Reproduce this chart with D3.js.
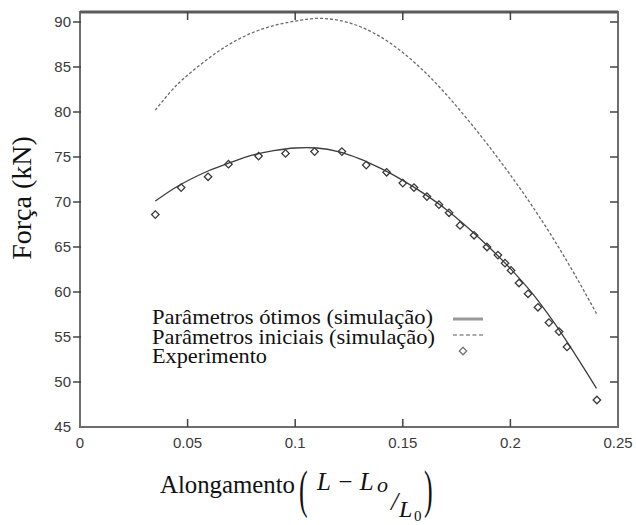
<!DOCTYPE html>
<html>
<head>
<meta charset="utf-8">
<script src="https://cdn.jsdelivr.net/npm/d3@7"></script>
<style>
  body { margin: 0; background: #fff; }
  svg { display: block; }
</style>
</head>
<body>
<svg id="chart" width="636" height="525"></svg>
<script>
// ticks
const xTicks = [0, 0.05, 0.1, 0.15, 0.2, 0.25];
const xTickLabels = ["0", "0.05", "0.1", "0.15", "0.2", "0.25"];
const yTicks = [45, 50, 55, 60, 65, 70, 75, 80, 85, 90];

// simulated curves
const simX = [0.035, 0.045, 0.06, 0.07, 0.08, 0.09, 0.1, 0.11, 0.12, 0.13, 0.14,
  0.15, 0.16, 0.17, 0.18, 0.19, 0.2, 0.21, 0.22, 0.23, 0.24];
const otimosY = [70.1, 71.7, 73.5, 74.4, 75.2, 75.7, 76.0, 76.0, 75.6, 74.8, 73.7,
  72.4, 70.9, 69.2, 67.2, 65.0, 62.6, 59.9, 56.7, 53.1, 49.3];
const iniciaisY = [80.2, 83.0, 86.0, 87.6, 88.8, 89.6, 90.1, 90.4, 90.2, 89.5, 88.3,
  86.6, 84.5, 82.0, 79.2, 76.2, 73.0, 69.6, 65.9, 61.9, 57.6];

// experiment points
const expX = [0.035, 0.047, 0.0595, 0.069, 0.083, 0.0955, 0.109, 0.1217, 0.133, 0.1425,
  0.150, 0.1552, 0.1612, 0.1668, 0.1715, 0.1766, 0.1831, 0.1891, 0.1942, 0.1975,
  0.2003, 0.204, 0.2082, 0.2128, 0.2179, 0.2226, 0.2263, 0.2402];
const expY = [68.6, 71.6, 72.8, 74.2, 75.1, 75.4, 75.6, 75.6, 74.1, 73.3,
  72.1, 71.6, 70.6, 69.7, 68.8, 67.4, 66.3, 65.0, 64.1, 63.2,
  62.4, 61.0, 59.8, 58.3, 56.6, 55.6, 53.9, 48.0];

const legendLabels = ["Parâmetros ótimos (simulação)", "Parâmetros iniciais (simulação)", "Experimento"];
const legendWidths = [281, 283, 115];

let svg = d3.select("#chart");

let plotLeft = 80, plotRight = 618, plotTop = 12, plotBottom = 427;

let x = d3.scaleLinear().domain([0, 0.25]).range([plotLeft, plotRight]);
let y = d3.scaleLinear().domain([45, 91.11]).range([plotBottom, plotTop]);

let sansFont = "'Liberation Sans', Arial, sans-serif";
let serifFont = "'Liberation Serif', 'Times New Roman', serif";

// frame
svg.append("rect")
  .attr("x", plotLeft).attr("y", plotTop)
  .attr("width", plotRight - plotLeft).attr("height", plotBottom - plotTop)
  .attr("fill", "none")
  .attr("stroke", "#6e6e6e")
  .attr("stroke-width", 2);
svg.append("line")
  .attr("x1", plotLeft).attr("x2", plotRight)
  .attr("y1", plotTop).attr("y2", plotTop)
  .attr("stroke", "#5a5a5a").attr("stroke-width", 3);

// x ticks (inside, mirrored on top)
let xt = svg.append("g").attr("class", "xticks");
xt.selectAll(".b").data(xTicks.slice(1, -1)).enter().append("line")
  .attr("x1", d => x(d)).attr("x2", d => x(d))
  .attr("y1", plotBottom).attr("y2", plotBottom - 8)
  .attr("stroke", "#444").attr("stroke-width", 1.5);
xt.selectAll(".t").data(xTicks.slice(1, -1)).enter().append("line")
  .attr("x1", d => x(d)).attr("x2", d => x(d))
  .attr("y1", plotTop).attr("y2", plotTop + 8)
  .attr("stroke", "#444").attr("stroke-width", 1.5);
xt.selectAll("text").data(xTicks).enter().append("text")
  .attr("x", d => x(d))
  .attr("y", plotBottom + 21)
  .attr("text-anchor", "middle")
  .attr("font-family", sansFont)
  .attr("font-size", 15)
  .attr("fill", "#3a3a3a")
  .text((d, i) => xTickLabels[i]);

// y ticks (outside on left, inside on right)
let yt = svg.append("g").attr("class", "yticks");
yt.selectAll(".l").data(yTicks.slice(1)).enter().append("line")
  .attr("x1", plotLeft - 7).attr("x2", plotLeft + 1)
  .attr("y1", d => y(d)).attr("y2", d => y(d))
  .attr("stroke", "#444").attr("stroke-width", 1.5);
yt.selectAll(".r").data(yTicks.slice(1)).enter().append("line")
  .attr("x1", plotRight - 8).attr("x2", plotRight)
  .attr("y1", d => y(d)).attr("y2", d => y(d))
  .attr("stroke", "#444").attr("stroke-width", 1.5);
yt.selectAll("text").data(yTicks).enter().append("text")
  .attr("x", plotLeft - 9)
  .attr("y", d => y(d) + 5)
  .attr("text-anchor", "end")
  .attr("font-family", sansFont)
  .attr("font-size", 15)
  .attr("fill", "#3a3a3a")
  .text(d => d);

// curves
let line = d3.line()
  .x(d => x(d[0]))
  .y(d => y(d[1]))
  .curve(d3.curveCatmullRom.alpha(0.5));

svg.append("path")
  .datum(simX.map((v, i) => [v, iniciaisY[i]]))
  .attr("d", line)
  .attr("fill", "none")
  .attr("stroke", "#6a6a6a")
  .attr("stroke-width", 1.3)
  .attr("stroke-dasharray", "3,2");

svg.append("path")
  .datum(simX.map((v, i) => [v, otimosY[i]]))
  .attr("d", line)
  .attr("fill", "none")
  .attr("stroke", "#3c3c3c")
  .attr("stroke-width", 1.3);

let diamond = d3.symbol().type(d3.symbolSquare).size(28);
svg.append("g").selectAll("path")
  .data(expX.map((v, i) => [v, expY[i]]))
  .enter().append("path")
  .attr("d", diamond)
  .attr("transform", d => "translate(" + x(d[0]) + "," + y(d[1]) + ") rotate(45)")
  .attr("fill", "none")
  .attr("stroke", "#3a3a3a")
  .attr("stroke-width", 1.3);

// legend
let legend = svg.append("g").attr("class", "legend");
legend.selectAll("text").data(legendLabels).enter().append("text")
  .attr("x", 152)
  .attr("y", (d, i) => 324 + i * 19.5)
  .attr("font-family", serifFont)
  .attr("font-size", 21)
  .attr("textLength", (d, i) => legendWidths[i])
  .attr("lengthAdjust", "spacingAndGlyphs")
  .attr("fill", "#111")
  .text(d => d);
legend.append("line")
  .attr("x1", 453).attr("x2", 483).attr("y1", 319).attr("y2", 319)
  .attr("stroke", "#999").attr("stroke-width", 3);
legend.append("line")
  .attr("x1", 453).attr("x2", 483).attr("y1", 335).attr("y2", 335)
  .attr("stroke", "#aaa").attr("stroke-width", 2)
  .attr("stroke-dasharray", "4,2.5");
legend.append("path")
  .attr("d", diamond)
  .attr("transform", "translate(463,351) rotate(45)")
  .attr("fill", "none")
  .attr("stroke", "#777")
  .attr("stroke-width", 1.3);

// axis titles
svg.append("text")
  .attr("transform", "translate(31,198) rotate(-90)")
  .attr("text-anchor", "middle")
  .attr("font-family", serifFont)
  .attr("font-size", 28)
  .attr("fill", "#111")
  .text("Força (kN)");

let xt2 = svg.append("g").attr("font-family", serifFont).attr("fill", "#111");
xt2.append("text").attr("x", 160).attr("y", 493).attr("font-size", 25.5)
  .attr("textLength", 135).attr("lengthAdjust", "spacingAndGlyphs").text("Alongamento");
xt2.append("text").attr("transform", "translate(299,495) scale(1,2.05)")
  .attr("font-size", 26).attr("dominant-baseline", "middle").text("(");
xt2.append("text").attr("x", 317).attr("y", 490).attr("font-size", 25)
  .attr("font-style", "italic").text("L − L");
xt2.append("text").attr("x", 377).attr("y", 492).attr("font-size", 22)
  .attr("font-style", "italic").text("o");
xt2.append("text").attr("x", 391).attr("y", 510).attr("font-size", 26)
  .attr("font-style", "italic").text("/");
xt2.append("text").attr("x", 399).attr("y", 517).attr("font-size", 24)
  .attr("font-style", "italic").text("L");
xt2.append("text").attr("x", 414).attr("y", 521).attr("font-size", 15).text("0");
xt2.append("text").attr("transform", "translate(424,495) scale(1,2.05)")
  .attr("font-size", 26).attr("dominant-baseline", "middle").text(")");
</script>
</body>
</html>
